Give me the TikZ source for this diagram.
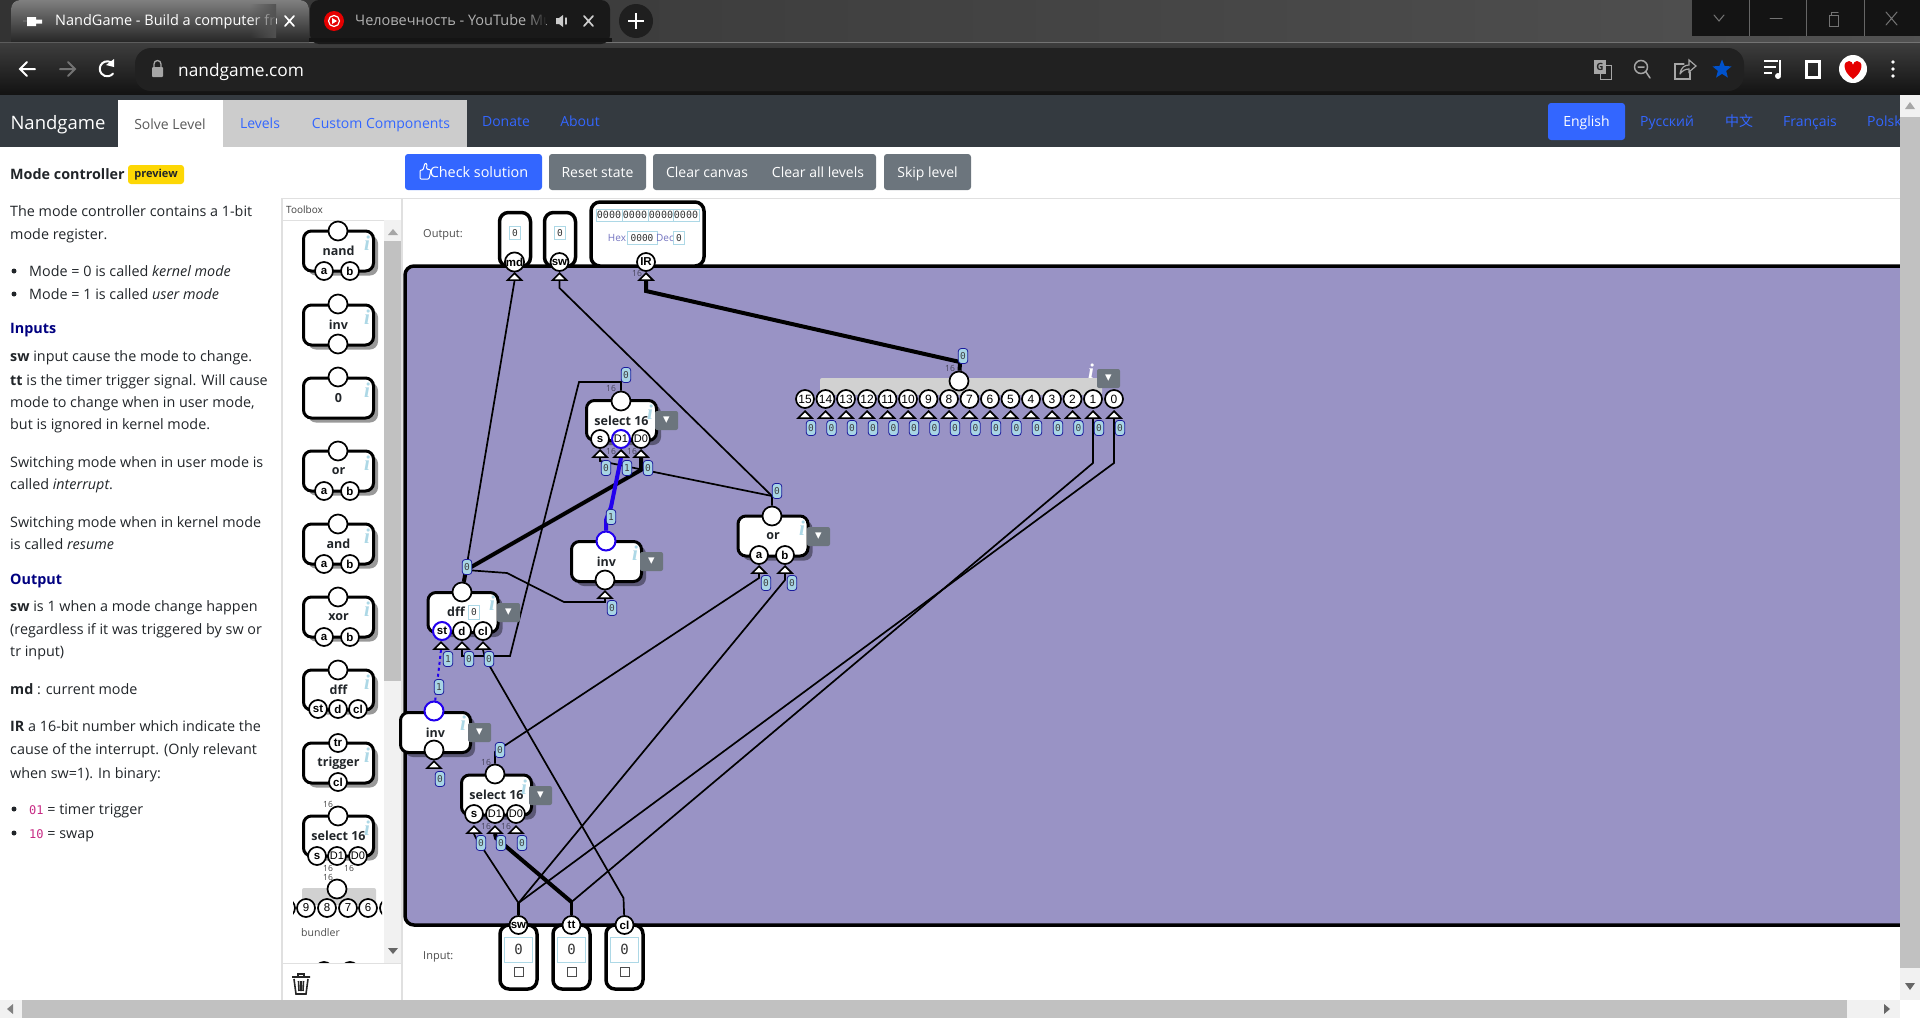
\documentclass[tikz,border=0pt]{standalone}
\usepackage{fontspec}
\setmainfont{Open Sans}
\newfontfamily\monoface{DejaVu Sans Mono}
\newfontfamily\cjkface{Noto Sans CJK SC}
\newfontfamily\infoface{Liberation Serif}
\newfontfamily\portface{Liberation Sans}
\usetikzlibrary{shapes.geometric,shadows,fadings}
\pgfdeclarelayer{bg}
\pgfdeclarelayer{wires}
\pgfsetlayers{bg,wires,main}
\definecolor{panelc}{HTML}{9993C5}
\definecolor{navc}{HTML}{343A40}
\definecolor{linkc}{HTML}{3366FF}
\definecolor{greyc}{HTML}{6C757D}
\definecolor{livec}{HTML}{2200EE}
\definecolor{valc}{HTML}{A8D5E5}
\definecolor{valline}{HTML}{1A1A9C}
\definecolor{infoc}{HTML}{ADD8E6}
\definecolor{thumbc}{HTML}{C1C1C1}
\definecolor{trackc}{HTML}{F1F1F1}
\definecolor{inkc}{HTML}{212529}
\newcommand\px[1]{\fontsize{#1}{#1}\selectfont}
\tikzset{
  block/.style={draw=black,line width=3pt,fill=white,rounded corners=8pt,inner sep=0pt,minimum width=70pt,minimum height=40pt,
    font=\px{12.5}\bfseries,text=inkc,general shadow={shadow xshift=4.5pt,shadow yshift=-4.5pt,fill=black,opacity=.4}},
  outblock/.style={draw=black,line width=3.5pt,fill=white,rounded corners=9pt,inner sep=0pt},
  port/.style={circle,draw=black,line width=1.7pt,fill=white,inner sep=0pt,minimum size=18pt,font=\portface\px{11.5}\bfseries,text=black},
  pin/.style={port,minimum size=19pt},
  live/.style={draw=livec,line width=2pt},
  narrow/.style={font=\portface\px{11}},
  tip/.style={isosceles triangle,isosceles triangle apex angle=90,shape border rotate=90,anchor=apex,draw=black,fill=white,line width=1.6pt,inner sep=0pt,minimum height=7pt},
  val/.style={rounded corners=3pt,draw=valline,line width=.8pt,fill=valc,inner sep=0pt,minimum width=9.5pt,minimum height=15pt,font=\monoface\px{9.5},text=black!75},
  valbox/.style={draw=infoc,line width=.8pt,fill=white,inner sep=0pt,minimum height=13pt,font=\monoface\px{9.5},text=black!80},
  wire/.style={draw=black,line width=1.7pt},
  bus/.style={draw=black,line width=4pt},
  hot/.style={draw=livec,line width=4pt},
  info/.style={font=\infoface\px{21}\bfseries\itshape,text=infoc,inner sep=0pt},
  drop/.style={rounded corners=2pt,fill=greyc,minimum width=23pt,minimum height=19pt,inner sep=0pt,text=white,font=\fontspec{DejaVu Sans}\px{13}},
  bits/.style={font=\px{8.5},text=black!55!panelc,inner sep=0pt},
  txt/.style={anchor=west,inner sep=0pt,yshift=-1pt,text height=11pt,text depth=3pt,font=\px{14.35},text=inkc},
  head/.style={txt,font=\px{14.35}\bfseries,text=blue!50!black},
  dot/.style={circle,fill=inkc,inner sep=0pt,minimum size=5pt},
  navtxt/.style={inner sep=0pt,text height=11pt,text depth=2pt,font=\px{14},text=linkc},
  btn/.style={rounded corners=3pt,minimum height=36pt,inner sep=0pt,text height=12pt,text depth=1pt,text=white,font=\px{14}},
  gly/.style={draw=#1,line width=1.5pt,line cap=round}
}
\begin{document}
\begin{tikzpicture}[x=1pt,y=-1pt]
\useasboundingbox (0,0) rectangle (1920,1020);
% browser
\fill[left color=black!80,right color=black!68] (0,0) rectangle (1920,42);
\fill[top color=black!76,bottom color=black!93] (0,43) rectangle (1920,95);
\fill[black!55] (0,41.5) rectangle (1920,43);
\fill[top color=black!50,bottom color=black!85] (0,42) -- (11,42) -- (11,10) [rounded corners=9pt] -- (11,0) -- (309,0) [sharp corners] -- (309,42) -- (0,42) -- cycle;
\fill[black!90,rounded corners=9pt] (310,44) -- (310,0) -- (610,0) -- (610,44) -- cycle;
\fill[black!92] (309,38) rectangle (612,42);
\fill[black!92] (1692,0) rectangle (1920,36);
\foreach \xx in {1749,1806,1864} \draw[black!60,line width=.8pt] (\xx,0) -- (\xx,36);
\draw[gly=black!55,line width=1pt] (1714,15) -- (1719,21) -- (1724,15);
\draw[gly=black!55,line width=1pt] (1770,18) -- (1782,18);
\draw[gly=black!55,line width=1pt] (1829,15) rectangle (1838,26) (1831,15) -- (1831,12) -- (1838,12);
\draw[gly=black!55,line width=1pt] (1886,12) -- (1897,25) (1897,12) -- (1886,25);
% tabs
\fill[white] (27,17) rectangle (36,26) (36,19.5) rectangle (42,23.5);
\fill[black!60] (23,20) rectangle (27,22);
\begin{scope}
\clip (50,0) rectangle (276,42);
\node[anchor=west,inner sep=0pt,text=white,font=\px{14.5},text height=11pt,text depth=2pt] (tabone) at (55,21) {NandGame - Build a computer from};
\fill[black!68,path fading=west] (250,4) rectangle (277,38);
\end{scope}
\draw[gly=white,line width=1.7pt] (285,16) -- (294,26) (294,16) -- (285,26);
\fill[red!90!black] (334,21) circle (10);
\draw[white,line width=1.2pt] (334,21) circle (5.5);
\fill[white] (332,18) -- (337,21) -- (332,24) -- cycle;
\begin{scope}
\clip (350,0) rectangle (546,42);
\node[anchor=west,inner sep=0pt,text=black!30,font=\px{14.5},text height=11pt,text depth=2pt] (tabtwo) at (355,21) {Человечность - YouTube Music};
\fill[black!90,path fading=west] (525,4) rectangle (547,38);
\end{scope}
\fill[black!20] (556,18) rectangle (559,24) (559,18) -- (563,15) -- (563,27) -- (559,24) -- cycle;
\draw[gly=black!20] (566,18) -- (566,24);
\draw[gly=black!20,line width=1.7pt] (584,16) -- (593,26) (593,16) -- (584,26);
\node[circle,fill=black!88,minimum size=34pt,inner sep=0pt] (newtab) at (636,21) {};
\draw[white,line width=2.2pt] (628,21) -- (644,21) (636,13) -- (636,29);
% toolbar
\fill[black!87,rounded corners=16pt] (135,48) rectangle (1744,91);
\draw[gly=white,line width=2pt] (35,69) -- (20,69) (27,62) -- (20,69) -- (27,76);
\draw[gly=black!55,line width=2pt] (60,69) -- (75,69) (68,62) -- (75,69) -- (68,76);
\draw[gly=white,line width=2pt] (113,64) arc[start angle=-40,end angle=-320,radius=7.5];
\fill[white] (114,59) -- (114,67) -- (106,65) -- cycle;
\fill[black!35,rounded corners=1pt] (152,67) rectangle (163,77);
\draw[black!35,line width=1.3pt] (154,67) -- (154,64) arc[start angle=180,end angle=360,radius=3.5] -- (161,67);
\node[anchor=west,inner sep=0pt,text=white,font=\px{17.3},text height=15pt,text depth=2pt] (addr) at (178,70) {nandgame.com};
\fill[black!35] (1594,60) rectangle (1606,74);
\draw[black!35,line width=1pt] (1600,65) rectangle (1611,79);
\node[inner sep=0pt,text=black!85,font=\px{10}\bfseries] (translate) at (1600,67) {G};
\draw[gly=black!35] (1641,67) circle (6.5) (1638,67) -- (1644,67) (1646,72) -- (1650,78);
\draw[gly=black!35,line width=1.2pt] (1684,64) -- (1675,64) -- (1675,79) -- (1690,79) -- (1690,72);
\draw[gly=black!35,line width=1.2pt] (1680,74) .. controls (1681,67) and (1685,65) .. (1689,65) -- (1689,60) -- (1696,66) -- (1689,72) -- (1689,69) .. controls (1685,69) and (1682,71) .. (1680,74);
\node[star,star points=5,star point ratio=2.3,fill=blue!60!cyan!80!black,inner sep=0pt,minimum size=20pt] (bookmark) at (1722,69.5) {};
\draw[white,line width=2pt] (1764,61) -- (1778,61) (1764,67) -- (1776,67) (1764,73) -- (1772,73) (1780,60) -- (1780,75);
\fill[white] (1778,76) circle (3);
\draw[white,line width=3pt] (1806,61) rectangle (1819,77);
\fill[white] (1853,69) circle (14);
\fill[red!90!black] (1853,79) .. controls (1842,71) and (1843,61) .. (1849,61) .. controls (1851,61) and (1853,63) .. (1853,65) .. controls (1853,63) and (1855,61) .. (1857,61) .. controls (1863,61) and (1864,71) .. (1853,79) -- cycle;
\foreach \yy in {62,69,76} \fill[white] (1893,\yy) circle (1.9);
% nav bar
\fill[navc] (0,95) rectangle (1900,147);
\node[inner sep=0pt,text=white,font=\px{18.5},text height=15pt,text depth=1pt] (brand) at (58,122) {Nandgame};
\fill[white] (118,100) rectangle (223,147);
\fill[black!20] (223,100) rectangle (467,147);
\node[navtxt,text=black!65] (navsolve) at (170,124.5) {Solve Level};
\node[navtxt] (navlevels) at (260,124) {Levels};
\node[navtxt] (navcustom) at (381,124) {Custom Components};
\node[navtxt] (navdonate) at (506,122) {Donate};
\node[navtxt] (navabout) at (580,122) {About};
\node[btn,fill=linkc,minimum width=77pt,minimum height=37pt,text height=11pt,text depth=2pt] (langen) at (1586.5,121.5) {English};
\node[navtxt] (langru) at (1667,122) {Русский};
\node[navtxt,font=\cjkface\px{14}] (langzh) at (1739,122) {中文};
\node[navtxt] (langfr) at (1810,122) {Français};
\begin{scope}
\clip (1860,100) rectangle (1899,145);
\node[navtxt,anchor=west] (langpl) at (1867,122) {Polski};
\end{scope}
% scrollbars and frames
\fill[trackc] (1900,95) rectangle (1920,1000);
\fill[thumbc] (1900,117) rectangle (1920,968);
\fill[black!35] (1905,109) -- (1910,102) -- (1915,109) -- cycle;
\fill[black!60] (1905,983) -- (1910,990) -- (1915,983) -- cycle;
\fill[trackc] (0,1000) rectangle (1900,1018);
\fill[thumbc] (22,1000) rectangle (1847,1018);
\fill[black!50] (13,1004) -- (7,1009) -- (13,1014) -- cycle;
\fill[black!60] (1884,1004) -- (1890,1009) -- (1884,1014) -- cycle;
\draw[black!12,line width=1pt] (282,198) -- (1900,198);
\draw[black!12,line width=2pt] (282,198) -- (282,1000) (402,198) -- (402,1000);
\draw[black!12,line width=1pt] (282,220) -- (384,220) (282,963) -- (402,963);
\fill[trackc] (384,220) rectangle (401,963);
\fill[thumbc] (384,241) rectangle (401,681);
\fill[black!35] (388,235) -- (393,229) -- (398,235) -- cycle;
\fill[black!60] (388,948) -- (393,954) -- (398,948) -- cycle;
% buttons
\node[btn,fill=linkc,minimum width=137pt,font=\px{14.4}] (btncheck) at (473.5,172) {\hspace{11pt}Check solution};
\draw[white,line width=1pt,rounded corners=1pt] (420,179) -- (420,170) -- (423,170) -- (425,163) -- (427,164) -- (426.5,169) -- (431,170) -- (429,179) -- cycle;
\node[btn,fill=greyc,minimum width=97pt] (btnreset) at (597.5,172) {Reset state};
\node[btn,fill=greyc,minimum width=223pt] (btnclear) at (764.5,172) {};
\node[btn] (btncanvas) at (707,172) {Clear canvas};
\node[btn] (btnall) at (818,172) {Clear all levels};
\node[btn,fill=greyc,minimum width=87pt] (btnskip) at (927.5,172) {Skip level};
% left text
\node[txt,font=\px{14.35}\bfseries] (title) at (10,174) {Mode controller};
\node[rounded corners=3pt,fill=yellow!75!orange,inner sep=0pt,minimum width=56pt,minimum height=19pt,font=\px{11}\bfseries,text=inkc] (badge) at (156,174.5) {preview};
\node[txt] (l1) at (10,211) {The mode controller contains a 1-bit};
\node[txt] (l2) at (10,234) {mode register.};
\node[dot] (b1) at (14,271) {};
\node[txt] (l3) at (29,271) {Mode = 0 is called \textit{kernel mode}};
\node[dot] (b2) at (14,294) {};
\node[txt] (l4) at (29,294) {Mode = 1 is called \textit{user mode}};
\node[head] (h1) at (10,328) {Inputs};
\node[txt] (l5) at (10,356) {\textbf{sw} input cause the mode to change.};
\node[txt] (l6) at (10,380) {\textbf{tt} is the timer trigger signal. Will cause};
\node[txt] (l7) at (10,402) {mode to change when in user mode,};
\node[txt] (l8) at (10,424) {but is ignored in kernel mode.};
\node[txt] (l9) at (10,462) {Switching mode when in user mode is};
\node[txt] (l10) at (10,484) {called \textit{interrupt}.};
\node[txt] (l11) at (10,522) {Switching mode when in kernel mode};
\node[txt] (l12) at (10,544) {is called \textit{resume}};
\node[head] (h2) at (10,579) {Output};
\node[txt] (l13) at (10,606) {\textbf{sw} is 1 when a mode change happen};
\node[txt] (l14) at (10,629) {(regardless if it was triggered by sw or};
\node[txt] (l15) at (10,651) {tr input)};
\node[txt] (l16) at (10,689) {\textbf{md} : current mode};
\node[txt] (l17) at (10,726) {\textbf{IR} a 16-bit number which indicate the};
\node[txt] (l18) at (10,749) {cause of the interrupt. (Only relevant};
\node[txt] (l19) at (10,773) {when sw=1). In binary:};
\node[dot] (b3) at (14,809) {};
\node[txt] (l20) at (29,809) {{\monoface\px{12}\color{magenta!80!black}01} = timer trigger};
\node[dot] (b4) at (14,833) {};
\node[txt] (l21) at (29,833) {{\monoface\px{12}\color{magenta!80!black}10} = swap};
% toolbox
\node[inner sep=0pt,anchor=west,font=\px{10},text=black!75] (toolboxlbl) at (286,210) {Toolbox};
\foreach \nm/\yy in {nand/251,or/471,and/544,xor/617}{
  \node[block] (t\nm) at (338.5,\yy) {\nm};
  \node[pin] (t\nm o) at (338,\yy-20) {};
  \node[port] (t\nm a) at (324,\yy+20) {a};
  \node[port] (t\nm b) at (350,\yy+20) {b};
  \node[info] (t\nm i) at (367,\yy-8) {i};
}
\node[block] (tinv) at (338.5,325) {inv};
\node[pin] (tinvo) at (338,304) {};
\node[pin] (tinva) at (338,344) {};
\node[info] (tinvi) at (367,317) {i};
\node[block] (tzero) at (338.5,398) {0};
\node[pin] (tzeroo) at (338,377) {};
\node[info] (tzeroi) at (367,390) {i};
\node[block] (tdff) at (338.5,690) {dff};
\node[pin] (tdffo) at (338,670) {};
\node[port] (tdffst) at (318,709) {st};
\node[port] (tdffd) at (338,709) {d};
\node[port] (tdffcl) at (358,709) {cl};
\node[info] (tdffi) at (367,682) {i};
\node[block] (ttrig) at (338.5,763) {trigger};
\node[port] (ttrigtr) at (338,743) {tr};
\node[port] (ttrigcl) at (338,782) {cl};
\node[info] (ttrigi) at (367,755) {i};
\node[block] (tsel) at (338.5,836) {select 16};
\node[pin] (tselo) at (338,816) {};
\node[port] (tsels) at (317,856) {s};
\node[port,narrow] (tseld) at (337,856) {D1};
\node[port,narrow] (tselz) at (358,856) {D0};
\node[info] (tseli) at (367,828) {i};
\node[bits,text=black!75] (tselb) at (328,804) {16};
\node[bits,text=black!75] (tselc) at (328,868) {16};
\node[bits,text=black!75] (tsele) at (349,868) {16};
\fill[black!18,rounded corners=2pt] (302,888) rectangle (376,905);
\begin{scope}
\clip (293,880) rectangle (382,925);
\node[port] (tbunl) at (286,908) {};
\node[port,font=\portface\px{11.5}] (tbun9) at (306,908) {9};
\node[port,font=\portface\px{11.5}] (tbun8) at (327,908) {8};
\node[port,font=\portface\px{11.5}] (tbun7) at (348,908) {7};
\node[port,font=\portface\px{11.5}] (tbun6) at (368,908) {6};
\node[port] (tbunr) at (389,908) {};
\end{scope}
\node[pin] (tbuno) at (337,889) {};
\node[bits,text=black!75] (tbunb) at (328,877) {16};
\node[inner sep=0pt,anchor=west,font=\px{10.5},text=black!70] (tbunlbl) at (301,933) {bundler};
\begin{scope}
\clip (300,956) rectangle (380,962.5);
\node[port] (tnexta) at (324,971) {};
\node[port] (tnextb) at (350,971) {};
\end{scope}
% trash
\draw[black!85,line width=1.6pt] (294,979) -- (296,994) -- (306,994) -- (308,979) (292,977) -- (310,977) (298,977) -- (298,974) -- (304,974) -- (304,977) (298.5,981) -- (299,991) (301,981) -- (301,991) (303.5,981) -- (303,991);
% panel
\begin{pgfonlayer}{bg}
\fill[white] (405,198) rectangle (1900,1000);
\filldraw[fill=panelc,draw=black,line width=3.5pt,rounded corners=9pt] (1900,266) -- (405,266) -- (405,925) -- (1900,925);
\end{pgfonlayer}
% outputs
\node[inner sep=0pt,anchor=west,font=\px{11},text=black!70] (outlbl) at (423,235) {Output:};
\node[outblock,minimum width=31pt,minimum height=54pt] (omd) at (515,239.5) {};
\node[outblock,minimum width=31pt,minimum height=54pt] (osw) at (560,239.5) {};
\node[outblock,minimum width=113pt,minimum height=64pt] (oir) at (647.5,234) {};
\node[valbox,minimum width=11pt] (omdv) at (515,233) {0};
\node[valbox,minimum width=11pt] (oswv) at (560,233) {0};
\foreach \xx/\nn in {609/a,635/b,661/c,686/d}
  \node[valbox,minimum width=26pt,minimum height=12pt,font=\monoface\px{10}] (oirb\nn) at (\xx,215) {0000};
\node[inner sep=0pt,font=\px{10},text=black!45!blue!55!white] (hexlbl) at (617,238) {Hex};
\node[valbox,minimum width=30pt] (oirh) at (642,238) {0000};
\node[inner sep=0pt,font=\px{10},text=black!45!blue!55!white] (declbl) at (665,238) {Dec};
\node[valbox,minimum width=11pt] (oird) at (679,238) {0};
\node[port] (pmd) at (514.5,262) {md};
\node[port] (psw) at (559.5,262) {sw};
\node[port] (pir) at (646,262) {IR};
\node[tip] (tipmd) at (514.5,272) {};
\node[tip] (tipsw) at (559.5,272) {};
\node[tip] (tipir) at (646,272) {};
\node[bits] (irbits) at (637,273) {16};
% inputs
\node[inner sep=0pt,anchor=west,font=\px{11},text=black!70] (inlbl) at (423,957) {Input:};
\foreach \nm/\xx/\nmtxt in {swi/518.5/sw,tti/571.5/tt,cli/624.5/cl}{
  \node[outblock,minimum width=37pt,minimum height=64pt] (\nm) at (\xx,957) {};
  \node[valbox,minimum width=28pt,minimum height=25pt,font=\monoface\px{14}] (\nm v) at (\xx,949.5) {0};
  \node[draw=black!70,line width=1pt,fill=white,minimum size=9pt,inner sep=0pt] (\nm c) at (\xx,972) {};
  \node[port] (\nm p) at (\xx,925) {\nmtxt};
}
% select top
\node[block] (sela) at (621.5,420.5) {select 16};
\node[pin] (selao) at (621,401) {};
\node[port] (selas) at (600,439) {s};
\node[port,live,narrow] (selad) at (621,439) {D1};
\node[port,narrow] (selaz) at (641,439) {D0};
\node[tip] (tipas) at (600,449) {};
\node[tip] (tipad) at (621,449) {};
\node[tip] (tipaz) at (641,449) {};
\node[info] (selai) at (650,412) {i};
\node[drop] (selam) at (666.5,420.5) {▾};
\node[bits] (selab) at (611,388) {16};
\node[bits] (selac) at (611,451) {16};
\node[bits] (selae) at (632,451) {16};
\node[val] (vao) at (626,375) {0};
\node[val] (vas) at (606,468) {0};
\node[val] (vad) at (627,468) {1};
\node[val] (vaz) at (648,468) {0};
% inv top
\node[block] (inva) at (606.5,561.5) {inv};
\node[pin,live] (invao) at (606,541) {};
\node[pin] (invai) at (605,580) {};
\node[tip] (tipinva) at (605,590) {};
\node[info] (invaj) at (635,553) {i};
\node[drop] (invam) at (651.5,561.5) {▾};
\node[val] (vinvao) at (611,517) {1};
\node[val] (vinvai) at (612,608) {0};
% or
\node[block] (org) at (773,536) {or};
\node[pin] (orgo) at (772,516) {};
\node[port] (orga) at (759,555) {a};
\node[port] (orgb) at (785,555) {b};
\node[tip] (tiporga) at (759,565) {};
\node[tip] (tiporgb) at (785,565) {};
\node[info] (orgi) at (802,528) {i};
\node[drop] (orgm) at (818.5,536.5) {▾};
\node[val] (vorgo) at (777,491) {0};
\node[val] (vorga) at (766,583) {0};
\node[val] (vorgb) at (792,583) {0};
% dff
\node[block] (dffa) at (463,612.5) {};
\node[inner sep=0pt,font=\px{12.5}\bfseries,text=inkc] (dffname) at (456,612) {dff};
\node[valbox,minimum width=11pt,minimum height=14pt] (dffv) at (474,612) {0};
\node[pin] (dffo) at (462,592) {};
\node[port,live] (dffst) at (442,631) {st};
\node[port] (dffd) at (462,631) {d};
\node[port] (dffcl) at (483,631) {cl};
\node[tip] (tipst) at (441,641) {};
\node[tip] (tipd) at (462,641) {};
\node[tip] (tipcl) at (483,641) {};
\node[info] (dffi) at (492,603) {i};
\node[drop] (dffm) at (508.5,612.5) {▾};
\node[val] (vdffo) at (467,567) {0};
\node[val] (vdffs) at (448,659) {1};
\node[val] (vdffd) at (469,659) {0};
\node[val] (vdffc) at (489,659) {0};
% inv lower
\node[block] (invb) at (435.5,732.5) {inv};
\node[pin,live] (invbo) at (434,711) {};
\node[pin] (invbi) at (434,750) {};
\node[tip] (tipinvb) at (434,760) {};
\node[info] (invbj) at (463,723) {i};
\node[drop] (invbm) at (479.5,732.5) {▾};
\node[val] (vinvbo) at (439,687) {1};
\node[val] (vinvbi) at (440,779) {0};
% select lower
\node[block] (selb) at (496.5,795) {select 16};
\node[pin] (selbo) at (495,774) {};
\node[port] (selbs) at (474,814) {s};
\node[port,narrow] (selbd) at (495,814) {D1};
\node[port,narrow] (selbz) at (516,814) {D0};
\node[tip] (tipbs) at (474,825) {};
\node[tip] (tipbd) at (495,825) {};
\node[tip] (tipbz) at (516,825) {};
\node[info] (selbi) at (524,787) {i};
\node[drop] (selbm) at (540.5,795.5) {▾};
\node[bits] (selbb) at (486,762) {16};
\node[bits] (selbc) at (486,826) {16};
\node[bits] (selbe) at (506,826) {16};
\node[val] (vbo) at (500,750) {0};
\node[val] (vbs) at (481,843) {0};
\node[val] (vbd) at (501,843) {0};
\node[val] (vbz) at (522,843) {0};
% bundler
\fill[black!18,rounded corners=2pt] (820,378) rectangle (1102,395);
\foreach \nn/\xx in {15/805,14/825.5,13/846,12/867,11/887.5,10/908,9/928.5,8/949,7/969.5,6/990,5/1010.5,4/1031,3/1052,2/1072.5,1/1093,0/1114}{
  \node[port,font=\portface\px{12}] (bun\nn) at (\xx,399) {\nn};
  \node[tip] (tipbun\nn) at (\xx,410) {};
  \node[val] (vbun\nn) at (\xx+6,428) {0};
}
\node[pin] (buno) at (959,381) {};
\node[bits] (bunb) at (950,368) {16};
\node[info,text=white] (buni) at (1091,371) {i};
\node[drop] (bunm) at (1108.5,378.5) {▾};
\node[val] (vbuno) at (963,356) {0};
% junctions
\coordinate (jdff) at (466,570);
\coordinate (jsel) at (641,470);
\coordinate (jor) at (772,496);
\coordinate (jsw) at (518.5,903);
\coordinate (jtt) at (571.5,902);
% wires
\begin{pgfonlayer}{wires}
\draw[wire] (jdff) -- (tipmd.lower side);
\draw[wire] (jor) -- (559.5,288) -- (tipsw.lower side);
\draw[bus] (tipir.lower side) -- (646,291) -- (960,362) -- (buno);
\draw[wire] (selao) -- (621,382) -- (579,382) -- (510,656) -- (462,656) -- (tipd.lower side);
\draw[bus] (dffo) -- (jdff) -- (jsel) -- (tipaz.lower side);
\draw[wire] (jdff) -- (507,573) -- (564,602) -- (605,602) -- (tipinva.lower side);
\draw[wire] (orgo) -- (jor) -- (600,461) -- (tipas.lower side);
\draw[hot] (invao) -- (606,520) -- (611,507) -- (tipad.lower side);
\draw[draw=livec,line width=2pt,dashed] (invbo) -- (tipst.lower side);
\draw[wire] (tipcl.lower side) -- (485,658) -- (623.5,898) -- (clip);
\draw[bus,line width=3.5pt] (swip) -- (jsw);
\draw[bus,line width=3.5pt] (ttip) -- (jtt);
\draw[wire] (tipbs.lower side) -- (476,838) -- (jsw);
\draw[wire] (jsw) -- (785,580) -- (tiporgb.lower side);
\draw[wire] (jsw) -- (1114,463) -- (tipbun0.lower side);
\draw[wire] (jtt) -- (1093,463) -- (tipbun1.lower side);
\draw[bus] (tipbd.lower side) -- (496,838) -- (jtt);
\draw[wire] (selbo) -- (495,752) -- (759,578) -- (tiporga.lower side);
\end{pgfonlayer}
\end{tikzpicture}
\end{document}
